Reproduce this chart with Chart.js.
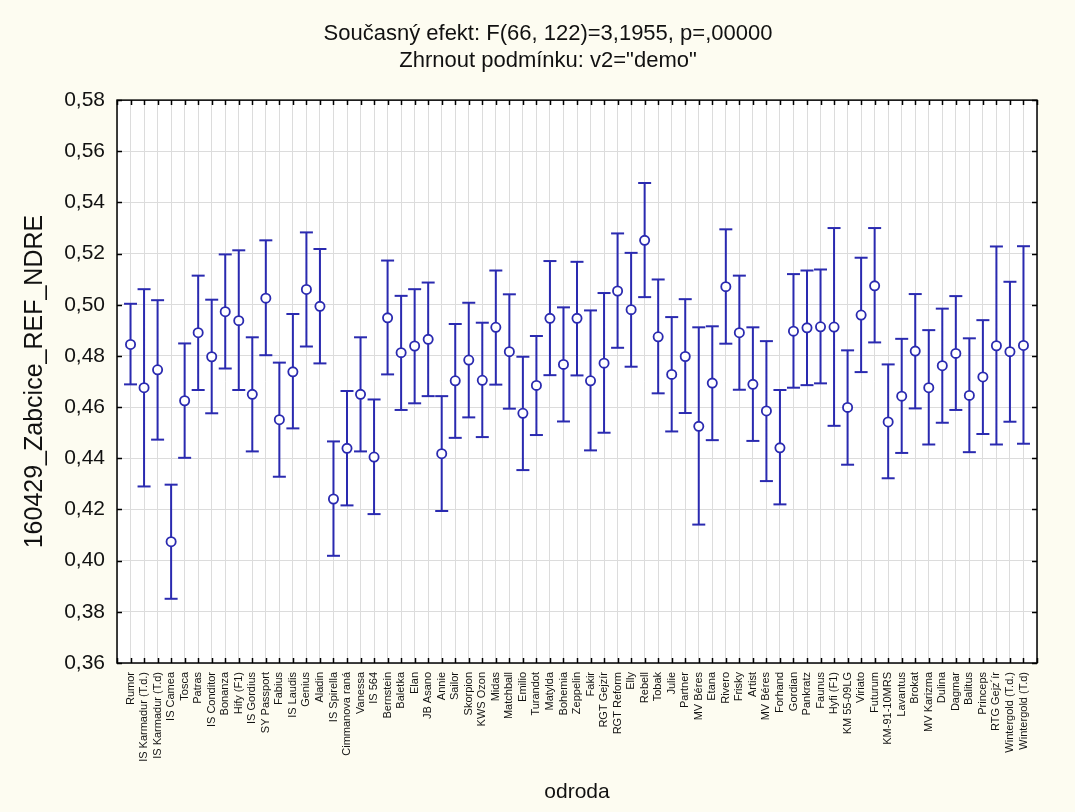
<!DOCTYPE html>
<html lang="cs">
<head>
<meta charset="utf-8">
<title>160429_Zabcice_REF_NDRE – odroda</title>
<script src="https://cdn.jsdelivr.net/npm/chart.js@4/dist/chart.umd.min.js"></script>
<style>
  html, body { margin: 0; padding: 0; background: #fdfcf1; }
  #wrap { width: 1075px; height: 812px; }
</style>
</head>
<body>
<div id="wrap"><canvas id="chart" width="1075" height="812"></canvas></div>
<script>
// Varieties (odroda) in plotting order
const varieties = [
    'Rumor', 'IS Karmadur (T.d.)', 'IS Karmadur (T.d)', 'IS Camea', 'Tosca', 'Patras',
    'IS Conditor', 'Bonanza', 'Hify (F1)', 'IS Gordius', 'SY Passport', 'Fabius',
    'IS Laudis', 'Genius', 'Aladin', 'IS Spirella', 'Cimmanova raná', 'Vanessa',
    'IS 564', 'Bernstein', 'Baletka', 'Elan', 'JB Asano', 'Annie', 'Sailor',
    'Skorpion', 'KWS Ozon', 'Midas', 'Matchball', 'Emilio', 'Turandot', 'Matylda',
    'Bohemia', 'Zeppelin', 'Fakir', 'RGT Gejzír', 'RGT Reform', 'Elly', 'Rebell',
    'Tobak', 'Julie', 'Partner', 'MV Béres', 'Etana', 'Rivero', 'Frisky', 'Artist',
    'MV Béres', 'Forhand', 'Gordian', 'Pankratz', 'Faunus', 'Hyfi (F1)', 'KM 55-09LG',
    'Viriato', 'Futurum', 'KM-91-10MRS', 'Lavantus', 'Brokat', 'MV Karizma', 'Dulina',
    'Dagmar', 'Balitus', 'Princeps', 'RTG Gejz´ír', 'Wintergold (T.d.)', 'Wintergold (T.d)'
];

// Least-squares means of 160429_Zabcice_REF_NDRE
const means = [
    0.4845, 0.4676, 0.4746, 0.4074, 0.4625, 0.4891, 0.4797, 0.4973, 0.4938, 0.4650,
    0.5026, 0.4551, 0.4738, 0.5060, 0.4994, 0.4241, 0.4439, 0.4650, 0.4405, 0.4949,
    0.4813, 0.4839, 0.4865, 0.4418, 0.4703, 0.4784, 0.4705, 0.4912, 0.4817, 0.4576,
    0.4685, 0.4947, 0.4767, 0.4947, 0.4703, 0.4772, 0.5054, 0.4981, 0.5252, 0.4875,
    0.4728, 0.4798, 0.4525, 0.4694, 0.5071, 0.4891, 0.4689, 0.4585, 0.4441, 0.4897,
    0.4910, 0.4914, 0.4913, 0.4599, 0.4960, 0.5074, 0.4542, 0.4643, 0.4819, 0.4676,
    0.4762, 0.4810, 0.4646, 0.4718, 0.4840, 0.4817, 0.4841
];

// Lower bounds of the 95% confidence intervals
const lowerBounds = [
    0.4689, 0.4290, 0.4473, 0.3851, 0.4402, 0.4667, 0.4576, 0.4751, 0.4667, 0.4427,
    0.4803, 0.4328, 0.4517, 0.4837, 0.4771, 0.4019, 0.4216, 0.4427, 0.4182, 0.4728,
    0.4589, 0.4615, 0.4643, 0.4194, 0.4480, 0.4560, 0.4483, 0.4688, 0.4594, 0.4354,
    0.4491, 0.4725, 0.4544, 0.4724, 0.4431, 0.4500, 0.4832, 0.4758, 0.5030, 0.4654,
    0.4505, 0.4577, 0.4141, 0.4471, 0.4848, 0.4668, 0.4468, 0.4311, 0.4220, 0.4676,
    0.4686, 0.4693, 0.4527, 0.4375, 0.4737, 0.4853, 0.4322, 0.4421, 0.4595, 0.4454,
    0.4539, 0.4589, 0.4424, 0.4495, 0.4454, 0.4543, 0.4457
];

// Upper bounds of the 95% confidence intervals
const upperBounds = [
    0.5004, 0.5061, 0.5018, 0.4297, 0.4849, 0.5114, 0.5020, 0.5197, 0.5213, 0.4873,
    0.5252, 0.4774, 0.4964, 0.5283, 0.5218, 0.4466, 0.4663, 0.4873, 0.4630, 0.5173,
    0.5035, 0.5061, 0.5087, 0.4643, 0.4925, 0.5008, 0.4930, 0.5134, 0.5041, 0.4797,
    0.4878, 0.5171, 0.4990, 0.5168, 0.4978, 0.5046, 0.5279, 0.5203, 0.5476, 0.5099,
    0.4952, 0.5022, 0.4912, 0.4916, 0.5295, 0.5114, 0.4912, 0.4858, 0.4667, 0.5120,
    0.5134, 0.5138, 0.5300, 0.4822, 0.5184, 0.5300, 0.4767, 0.4867, 0.5042, 0.4901,
    0.4985, 0.5034, 0.4869, 0.4940, 0.5228, 0.5090, 0.5229
];

const yMin = 0.36;
const yMax = 0.58;
const yStep = 0.02;

const MARK_COLOR = '#2a2ab0';
const PAGE_BG = '#fdfcf1';
const FONT = "'Liberation Sans', Arial, sans-serif";

// Position i + 1 on the x axis belongs to variety i
const meanPoints = means.map((m, i) => ({ x: i + 1, y: m }));
const capPoints = [];
const whiskerPoints = [];
varieties.forEach((name, i) => {
    capPoints.push({ x: i + 1, y: lowerBounds[i] }, { x: i + 1, y: upperBounds[i] });
    // null y breaks the line so each interval is its own segment
    whiskerPoints.push({ x: i + 1, y: lowerBounds[i] }, { x: i + 1, y: upperBounds[i] }, { x: i + 1, y: null });
});

// Cream page, white plot area, black frame with inward tick marks
const framePlugin = {
    id: 'frame',
    beforeDraw(chart) {
        const { ctx, chartArea: a } = chart;
        ctx.save();
        ctx.fillStyle = PAGE_BG;
        ctx.fillRect(0, 0, chart.width, chart.height);
        ctx.fillStyle = '#ffffff';
        ctx.fillRect(a.left, a.top, a.right - a.left, a.bottom - a.top);
        ctx.restore();
    },
    afterDraw(chart) {
        const { ctx, chartArea: a } = chart;
        const xs = chart.scales.x;
        const ys = chart.scales.y;
        ctx.save();
        ctx.strokeStyle = '#000000';
        ctx.lineWidth = 1.5;
        ctx.strokeRect(a.left, a.top, a.right - a.left, a.bottom - a.top);
        ctx.beginPath();
        xs.ticks.forEach(t => {
            const px = Math.round(xs.getPixelForValue(t.value)) + 0.5;
            ctx.moveTo(px, a.top);
            ctx.lineTo(px, a.top + 5);
            ctx.moveTo(px, a.bottom);
            ctx.lineTo(px, a.bottom - 5);
        });
        ys.ticks.forEach(t => {
            const py = Math.round(ys.getPixelForValue(t.value)) + 0.5;
            ctx.moveTo(a.left, py);
            ctx.lineTo(a.left + 5, py);
            ctx.moveTo(a.right, py);
            ctx.lineTo(a.right - 5, py);
        });
        ctx.stroke();
        ctx.restore();
    }
};

const ctx = document.getElementById('chart').getContext('2d');

new Chart(ctx, {
    type: 'scatter',
    data: {
        datasets: [
            {
                label: 'Průměr',
                data: meanPoints,
                pointStyle: 'circle',
                pointRadius: 4.6,
                pointBackgroundColor: '#ffffff',
                pointBorderColor: MARK_COLOR,
                pointBorderWidth: 1.8,
                showLine: false
            },
            {
                label: 'Meze',
                data: capPoints,
                pointStyle: 'line',
                pointRadius: 6.5,
                pointBorderColor: MARK_COLOR,
                pointBorderWidth: 2,
                showLine: false
            },
            {
                label: 'Interval',
                data: whiskerPoints,
                showLine: true,
                spanGaps: false,
                borderColor: MARK_COLOR,
                borderWidth: 2,
                pointRadius: 0,
                tension: 0
            }
        ]
    },
    options: {
        responsive: false,
        animation: false,
        events: [],
        layout: {
            padding: { left: 59, right: 38, top: 0, bottom: 0 }
        },
        plugins: {
            legend: { display: false },
            tooltip: { enabled: false },
            title: {
                display: true,
                text: ['Současný efekt: F(66, 122)=3,1955, p=,00000', 'Zhrnout podmínku: v2="demo"'],
                color: '#111111',
                font: { family: FONT, size: 22, weight: 'normal', lineHeight: 1.23 },
                padding: { top: 20, bottom: 26 }
            }
        },
        scales: {
            x: {
                type: 'linear',
                min: 0,
                max: varieties.length + 1,
                afterFit(scale) { scale.height = 149; },
                grid: {
                    color: '#dcdcdc',
                    lineWidth: 1,
                    drawTicks: false
                },
                border: { display: false },
                ticks: {
                    stepSize: 1,
                    maxTicksLimit: 200,
                    autoSkip: false,
                    minRotation: 90,
                    maxRotation: 90,
                    padding: 9,
                    color: '#111111',
                    font: { family: FONT, size: 11 },
                    callback: value => varieties[value - 1] || ''
                },
                title: {
                    display: true,
                    text: 'odroda',
                    color: '#111111',
                    font: { family: FONT, size: 21 },
                    padding: { top: 0, bottom: 7 }
                }
            },
            y: {
                type: 'linear',
                min: yMin,
                max: yMax,
                afterFit(scale) { scale.width = 58; },
                grid: {
                    color: '#dcdcdc',
                    lineWidth: 1,
                    drawTicks: false
                },
                border: { display: false },
                ticks: {
                    stepSize: yStep,
                    padding: 12,
                    color: '#111111',
                    font: { family: FONT, size: 21 },
                    callback: value => value.toFixed(2).replace('.', ',')
                },
                title: {
                    display: true,
                    text: '160429_Zabcice_REF_NDRE',
                    color: '#111111',
                    font: { family: FONT, size: 25 },
                    padding: { top: -39, bottom: 0 }
                }
            }
        }
    },
    plugins: [framePlugin]
});
</script>
</body>
</html>
